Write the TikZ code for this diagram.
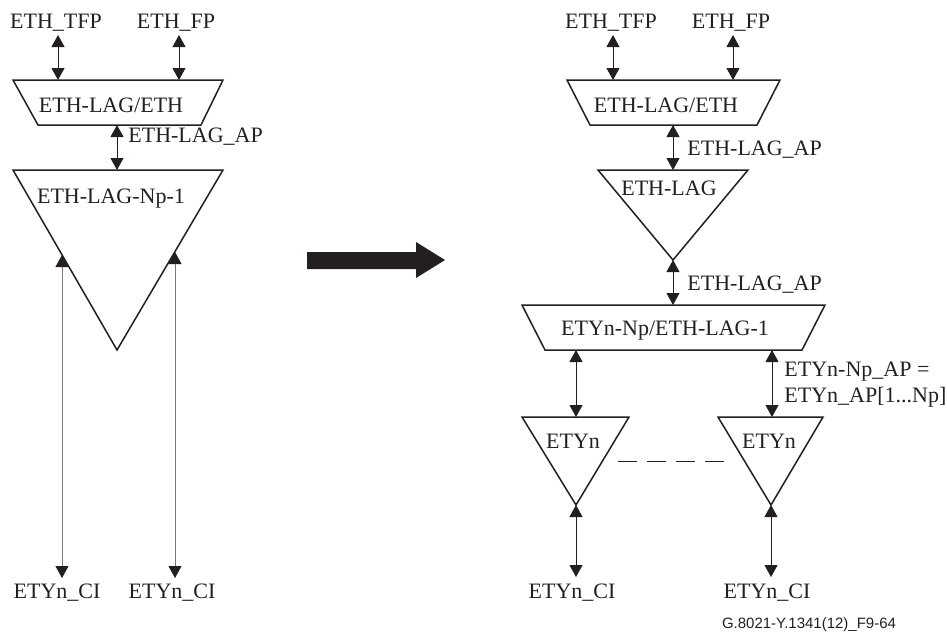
\documentclass[tikz,border=0pt]{standalone}
\usepackage{fontspec}
\setmainfont{Liberation Serif}
\newfontfamily\capfont{Liberation Sans}
\usetikzlibrary{arrows.meta}
\definecolor{ink}{HTML}{231F20}

\begin{document}
\begin{tikzpicture}[x=0.5pt, y=-0.5pt,
  blk/.style={draw=ink, line width=0.75pt, line join=miter},
  conn/.style={{Triangle[length=6pt,width=6.5pt]}-{Triangle[length=6pt,width=6.5pt]}, draw=ink, line width=0.45pt},
  longconn/.style={{Triangle[length=6pt,width=6.5pt,color=ink]}-{Triangle[length=6pt,width=6.5pt,color=ink]}, draw=ink!60, line width=0.4pt},
  txt/.style={font=\fontsize{11}{13}\selectfont, text=ink, inner sep=0pt, anchor=base},
  aplbl/.style={txt, anchor=base west},
  caption/.style={font=\capfont\fontsize{7.5}{9}\selectfont, text=ink, inner sep=0pt, anchor=base}
]
\useasboundingbox (0,0) rectangle (947,632);

% left: before
\node[txt] (tfpL) at (56,28) {ETH\_TFP};
\node[txt] (fpL) at (176,28) {ETH\_FP};
\draw[blk] (13,80) -- (223,80) -- (201,125) -- (38,125) -- cycle;
\node[txt] (lagethL) at (111,112) {ETH-LAG/ETH};
\draw[blk] (13,170) -- (223,170) -- (117,350) -- cycle;
\node[txt] (lagnpL) at (111,203) {ETH-LAG-Np-1};
\node[aplbl] (lagapL) at (128,142) {ETH-LAG\_AP};
\node[txt] (ciL1) at (57,598) {ETYn\_CI};
\node[txt] (ciL2) at (172,598) {ETYn\_CI};

\coordinate (tfpL-e) at (58,35);
\coordinate (fpL-e) at (179,35);
\coordinate (lagethL-n1) at (58,80);
\coordinate (lagethL-n2) at (179,80);
\coordinate (lagethL-s) at (117,125);
\coordinate (lagnpL-n) at (117,170);
\coordinate (lagnpL-p1) at (62,255);
\coordinate (lagnpL-p2) at (175,252);
\coordinate (ciL1-e) at (62,578);
\coordinate (ciL2-e) at (175,578);

\draw[conn] (tfpL-e) -- (lagethL-n1);
\draw[conn] (fpL-e) -- (lagethL-n2);
\draw[conn] (lagethL-s) -- (lagnpL-n);
\draw[longconn] (lagnpL-p1) -- (ciL1-e);
\draw[longconn] (lagnpL-p2) -- (ciL2-e);

% transformation arrow
\fill[ink] (307,252) -- (416,252) -- (416,242) -- (445,260) -- (416,278) -- (416,269) -- (307,269) -- cycle;

% right: after
\node[txt] (tfpR) at (611,28) {ETH\_TFP};
\node[txt] (fpR) at (731,28) {ETH\_FP};
\draw[blk] (567,80) -- (780,80) -- (757,125) -- (590,125) -- cycle;
\node[txt] (lagethR) at (666,112) {ETH-LAG/ETH};
\draw[blk] (598,170) -- (748,170) -- (673,260) -- cycle;
\node[txt] (lagR) at (669,195) {ETH-LAG};
\draw[blk] (522,305) -- (825,305) -- (802,350) -- (545,350) -- cycle;
\node[txt] (etynlagR) at (665,335) {ETYn-Np/ETH-LAG-1};
\draw[blk] (522,417) -- (629,417) -- (576,505) -- cycle;
\node[txt] (etyn1) at (573,448) {ETYn};
\draw[blk] (718,417) -- (823,417) -- (771,505) -- cycle;
\node[txt] (etyn2) at (769,448) {ETYn};
\node[aplbl] (lagapR1) at (687,155) {ETH-LAG\_AP};
\node[aplbl] (lagapR2) at (687,290) {ETH-LAG\_AP};
\node[txt, anchor=north west, align=left] (npap) at (784,362) {ETYn-Np\_AP =\\ETYn\_AP[1...Np]};
\node[txt] (ciR1) at (572,598) {ETYn\_CI};
\node[txt] (ciR2) at (767,598) {ETYn\_CI};
\node[caption] (fig) at (809,628) {G.8021-Y.1341(12)\_F9-64};

\coordinate (tfpR-e) at (613,35);
\coordinate (fpR-e) at (733,35);
\coordinate (lagethR-n1) at (613,80);
\coordinate (lagethR-n2) at (733,80);
\coordinate (lagethR-s) at (673,125);
\coordinate (lagR-n) at (673,170);
\coordinate (lagR-s) at (673,260);
\coordinate (etynlagR-n) at (673,305);
\coordinate (etynlagR-s1) at (576,350);
\coordinate (etynlagR-s2) at (772,350);
\coordinate (etyn1-n) at (576,417);
\coordinate (etyn2-n) at (772,417);
\coordinate (etyn1-s) at (576,505);
\coordinate (etyn2-s) at (771,505);
\coordinate (ciR1-e) at (576,577);
\coordinate (ciR2-e) at (771,577);
\coordinate (dash-a) at (618,461);
\coordinate (dash-b) at (727,461);

\draw[conn] (tfpR-e) -- (lagethR-n1);
\draw[conn] (fpR-e) -- (lagethR-n2);
\draw[conn] (lagethR-s) -- (lagR-n);
\draw[conn] (lagR-s) -- (etynlagR-n);
\draw[conn] (etynlagR-s1) -- (etyn1-n);
\draw[conn] (etynlagR-s2) -- (etyn2-n);
\draw[conn] (etyn1-s) -- (ciR1-e);
\draw[conn] (etyn2-s) -- (ciR2-e);
\draw[draw=ink, line width=0.5pt, dash pattern=on 9.5pt off 5pt] (dash-a) -- (dash-b);
\end{tikzpicture}
\end{document}
